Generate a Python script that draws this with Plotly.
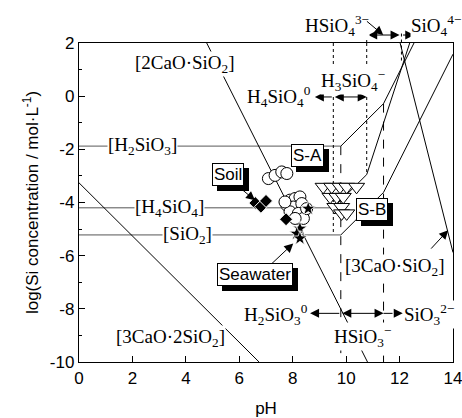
import plotly.graph_objects as go

# ---- axis setup ----
PH_RANGE = [0, 14]
SI_RANGE = [-10, 2]
X_TICKS = [0, 2, 4, 6, 8, 10, 12, 14]
Y_TICKS = [2, 0, -2, -4, -6, -8, -10]
Y_TICK_TEXT = ["2", "0", "-2", "-4", "-6", "-8", "-10"]

# ---- solubility lines (pH, log Si) ----
h2sio3_flat_ph = [0, 9.8]
h2sio3_flat_si = [-1.88, -1.88]
h2sio3_rise_ph = [9.8, 11.4, 12.54]
h2sio3_rise_si = [-1.88, -0.28, 2.0]

h4sio4_flat_ph = [0, 9.52]
h4sio4_flat_si = [-4.2, -4.2]
h4sio4_rise_ph = [9.52, 10.77, 12.38]
h4sio4_rise_si = [-4.2, -2.95, 2.0]

sio2_flat_ph = [0, 9.8]
sio2_flat_si = [-5.22, -5.22]
sio2_rise_ph = [9.8, 11.4, 14.0]
sio2_rise_si = [-5.22, -3.62, 1.58]

c2s_ph = [4.78, 10.8]      # 2CaO·SiO2
c2s_si = [2.0, -10.0]
c3s_ph = [12.02, 14.0]     # 3CaO·SiO2
c3s_si = [2.0, -5.88]
c3s2_ph = [0.0, 6.74]      # 3CaO·2SiO2
c3s2_si = [-3.26, -10.0]

# ---- species boundaries ----
pka_h4sio4 = [9.52, 10.77, 12.07]
pka_h2sio3 = [9.8, 11.4]

# ---- measured samples ----
soil_ph = [6.60, 6.81, 7.00, 7.75]
soil_si = [-4.02, -4.16, -3.94, -4.63]

circle_ph = [7.09, 7.34, 7.59, 7.78,
             7.90, 8.09, 8.27, 7.78, 8.02, 8.34, 7.90, 8.21, 8.40, 8.09, 8.52, 7.71]
circle_si = [-3.10, -2.98, -2.85, -2.91,
             -3.91, -3.85, -3.79, -4.10, -4.17, -4.04, -4.35, -4.41, -4.60, -4.60, -4.23, -3.98]

sea_ph = [8.58, 8.27, 8.15, 8.27]
sea_si = [-4.23, -4.98, -5.17, -5.35]

tri_ph = [9.14, 9.46, 9.77, 10.02, 10.39, 9.40, 9.65, 9.89, 9.58, 9.83, 9.83, 10.02]
tri_si = [-3.41, -3.41, -3.41, -3.41, -3.41, -3.79, -3.79, -3.79, -4.17, -4.17, -4.41, -4.41]

SERIF = "Liberation Serif, Times New Roman, serif"
SANS = "Liberation Sans, Arial, sans-serif"
HEAD = 1.8

fig = go.Figure()


def add_line(xs, ys, color="black", width=1, dash="solid"):
    fig.add_trace(go.Scatter(x=xs, y=ys, mode="lines", hoverinfo="skip",
                             line=dict(color=color, width=width, dash=dash),
                             showlegend=False))


# horizontal solubility levels
add_line(h2sio3_flat_ph, h2sio3_flat_si, color="#7a7a7a", width=1.3)
add_line(h4sio4_flat_ph, h4sio4_flat_si, color="#555555")
add_line(sio2_flat_ph, sio2_flat_si, color="#555555")
# rising branches
add_line(h2sio3_rise_ph, h2sio3_rise_si)
add_line(h4sio4_rise_ph, h4sio4_rise_si)
add_line(sio2_rise_ph, sio2_rise_si)
# calcium silicate lines
add_line(c2s_ph, c2s_si)
add_line(c3s_ph, c3s_si)
add_line(c3s2_ph, c3s2_si)

# vertical boundaries
add_line([pka_h4sio4[0]] * 2, [2, -5.22], dash="dot")
add_line([pka_h4sio4[1]] * 2, [2, -2.95], dash="dot")
add_line([pka_h2sio3[0]] * 2, [-1.88, -10], dash="dash")
add_line([pka_h2sio3[1]] * 2, [-0.28, -10], dash="dash")

# samples
fig.add_trace(go.Scatter(x=circle_ph, y=circle_si, mode="markers", showlegend=False,
                         marker=dict(symbol="circle", size=12, color="white",
                                     line=dict(color="black", width=1))))
fig.add_trace(go.Scatter(x=tri_ph, y=tri_si, mode="markers", showlegend=False,
                         marker=dict(symbol="triangle-down", size=14, color="white",
                                     line=dict(color="black", width=1))))
fig.add_trace(go.Scatter(x=soil_ph, y=soil_si, mode="markers", showlegend=False,
                         marker=dict(symbol="diamond", size=10, color="black",
                                     line=dict(color="white", width=1))))
fig.add_trace(go.Scatter(x=sea_ph, y=sea_si, mode="markers", showlegend=False,
                         marker=dict(symbol="star", size=11, color="black",
                                     line=dict(color="white", width=0.8))))

shapes = []
# boundary lines above the frame
shapes.append(dict(type="line", xref="x", yref="paper", x0=pka_h4sio4[1], x1=pka_h4sio4[1],
                   y0=1.0, y1=1.033, line=dict(color="black", width=1, dash="dot")))
shapes.append(dict(type="line", xref="x", yref="paper", x0=pka_h4sio4[2], x1=pka_h4sio4[2],
                   y0=0.945, y1=1.033, line=dict(color="black", width=1, dash="dot")))
# dashed lead into SiO3 2-
shapes.append(dict(type="line", xref="x", yref="y", x0=pka_h2sio3[1], x1=11.95,
                   y0=-8.17, y1=-8.17, line=dict(color="black", width=1, dash="dash")))

ann = []


def chem(text, x, y, xanchor="center", yref="y", size=19):
    ann.append(dict(text=text, x=x, y=y, xref="x", yref=yref, showarrow=False,
                    xanchor=xanchor, yanchor="middle", bgcolor="white", borderpad=0,
                    font=dict(family=SERIF, size=size, color="black")))


def arrow(x_head, x_tail, y, yref="y", both=False):
    a = dict(text="", x=x_head, y=y, xref="x", yref=yref, ax=x_tail, axref="x",
             ay=0, ayref="pixel", showarrow=True, arrowhead=2, arrowsize=HEAD,
             arrowwidth=1, arrowcolor="black", standoff=0)
    if both:
        a.update(arrowside="end+start", startarrowhead=2, startarrowsize=HEAD, startstandoff=0)
    ann.append(a)


def leader(x_head, y_head, x_tail, y_tail):
    ann.append(dict(text="", x=x_head, y=y_head, xref="x", yref="y", ax=x_tail, ay=y_tail,
                    axref="x", ayref="y", showarrow=True, arrowhead=2, arrowsize=HEAD,
                    arrowwidth=1, arrowcolor="black"))


def boxed(text, x, y):
    common = dict(text=text, x=x, y=y, xref="x", yref="y", showarrow=False,
                  borderwidth=1, borderpad=1)
    ann.append(dict(common, xshift=5, yshift=-5, bgcolor="black", bordercolor="black",
                    font=dict(family=SANS, size=17, color="black")))
    ann.append(dict(common, bgcolor="white", bordercolor="black",
                    font=dict(family=SANS, size=17, color="black")))


# solid phase labels
chem("[2CaO·SiO<sub>2</sub>]", 3.97, 1.22)
chem("[H<sub>2</sub>SiO<sub>3</sub>]", 2.37, -1.88)
chem("[H<sub>4</sub>SiO<sub>4</sub>]", 3.37, -4.2)
chem("[SiO<sub>2</sub>]", 4.05, -5.22)
chem("[3CaO·2SiO<sub>2</sub>]", 3.41, -9.1)
chem("[3CaO·SiO<sub>2</sub>]", 11.82, -6.42)

# species arrows (H4SiO4 system, top)
arrow(8.83, pka_h4sio4[0], -0.03)
arrow(pka_h4sio4[1], pka_h4sio4[0], -0.03, both=True)
chem("H<sub>4</sub>SiO<sub>4</sub><sup>0</sup>", 8.72, -0.03, xanchor="right")
chem("H<sub>3</sub>SiO<sub>4</sub><sup>−</sup>", 10.25, 0.6)

arrow(12.0, pka_h4sio4[1], 1.025, yref="paper", both=True)
arrow(12.55, pka_h4sio4[2], 1.025, yref="paper")
chem("HSiO<sub>4</sub><sup>3−</sup>", 9.65, 1.055, yref="paper")
chem("SiO<sub>4</sub><sup>4−</sup>", 13.35, 1.055, yref="paper")
ann.append(dict(text="", x=11.39, y=1.025, xref="x", yref="paper", ax=10.72, axref="x",
                ay=-15, ayref="pixel", showarrow=True, arrowhead=2, arrowsize=HEAD,
                arrowwidth=1, arrowcolor="black"))

# species arrows (H2SiO3 system, bottom)
arrow(8.65, pka_h2sio3[0], -8.17)
arrow(pka_h2sio3[1], pka_h2sio3[0], -8.17, both=True)
arrow(12.12, 11.9, -8.17)
chem("H<sub>2</sub>SiO<sub>3</sub><sup>0</sup>", 8.62, -8.2, xanchor="right")
chem("HSiO<sub>3</sub><sup>−</sup>", 10.63, -9.03)
chem("SiO<sub>3</sub><sup>2−</sup>", 12.13, -8.2, xanchor="left")

# leader for [3CaO·SiO2]
leader(13.82, -5.04, 13.13, -5.79)

# sample labels
leader(6.59, -3.92, 6.03, -3.45)
leader(8.02, -5.54, 7.09, -6.42)
boxed("Soil", 5.58, -2.94)
boxed("Seawater", 6.59, -6.72)
boxed("S-A", 8.55, -2.22)
boxed("S-B", 10.98, -4.25)

fig.update_layout(
    width=462, height=418,
    margin=dict(l=79, r=9, t=43, b=56, autoexpand=False),
    paper_bgcolor="white", plot_bgcolor="white",
    shapes=shapes, annotations=ann,
    font=dict(family=SANS, size=17, color="black"),
    xaxis=dict(range=PH_RANGE, tickvals=X_TICKS, ticks="inside", ticklen=6, tickwidth=1,
               tickcolor="black", showline=True, linecolor="black", linewidth=1.3,
               mirror=True, showgrid=False, zeroline=False, ticklabeloverflow="allow",
               automargin=False,
               title=dict(text="pH", standoff=15, font=dict(family=SANS, size=17))),
    yaxis=dict(range=SI_RANGE, tickvals=Y_TICKS, ticktext=Y_TICK_TEXT, ticks="inside",
               ticklen=6, tickwidth=1, automargin=False,
               tickcolor="black", showline=True, linecolor="black", linewidth=1.3,
               mirror=True, showgrid=False, zeroline=False, ticklabeloverflow="allow",
               minor=dict(ticks="inside", ticklen=3, dtick=1, tickcolor="black", showgrid=False),
               title=dict(text="log(Si concentration / mol·L<sup>-1</sup>)", standoff=6,
                          font=dict(family=SANS, size=17))),
)

fig.write_html("out.html")
